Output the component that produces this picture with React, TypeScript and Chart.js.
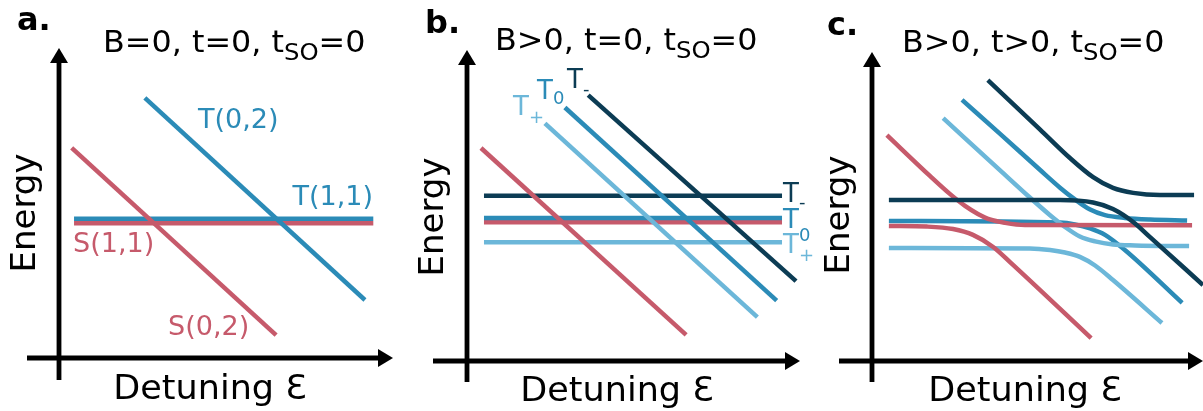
import React, { useEffect, useRef } from "react";
import { Chart, registerables } from "chart.js";

Chart.register(...registerables);

const FONT = '"DejaVu Sans", "Liberation Sans", sans-serif';
const RED = "#c65a6b";
const BLUE = "#2b8bb7";
const LIGHT = "#6cb7d9";
const DARK = "#0c3c54";

// ---------- Panel a: B=0, t=0, tSO=0 (detuning eps, energy E; arbitrary units 0..10)
const A_T11_EPS = [0.45, 9.41];
const A_T11_E = [4.49, 4.49];
const A_S11_EPS = [0.45, 9.41];
const A_S11_E = [4.35, 4.35];
const A_T02_EPS = [2.57, 9.16];
const A_T02_E = [8.39, 1.87];
const A_S02_EPS = [0.38, 6.5];
const A_S02_E = [6.78, 0.74];

// ---------- Panel b: B>0, t=0, tSO=0
const B_TM_H_EPS = [0.51, 9.46];
const B_TM_H_E = [5.31, 5.31];
const B_T0_H_EPS = [0.51, 9.46];
const B_T0_H_E = [4.6, 4.6];
const B_S11_EPS = [0.51, 9.46];
const B_S11_E = [4.46, 4.46];
const B_TP_H_EPS = [0.51, 9.46];
const B_TP_H_E = [3.82, 3.82];
const B_S02_EPS = [0.42, 6.58];
const B_S02_E = [6.85, 0.84];
const B_TP_D_EPS = [2.34, 8.72];
const B_TP_D_E = [7.64, 1.41];
const B_T0_D_EPS = [2.94, 9.3];
const B_T0_D_E = [8.15, 1.94];
const B_TM_D_EPS = [3.64, 9.88];
const B_TM_D_E = [8.55, 2.57];

// ---------- Panel c: B>0, t>0, tSO=0 (anticrossing branches)
const C_S_UP_EPS = [0.45, 1.75, 2.36, 2.81, 3.2, 3.56, 4.02, 4.62, 9.67];
const C_S_UP_E = [7.31, 5.99, 5.4, 5.02, 4.76, 4.58, 4.47, 4.4, 4.39];
const C_S_LO_EPS = [0.51, 1.66, 2.45, 3.05, 3.66, 4.17, 6.62];
const C_S_LO_E = [4.37, 4.35, 4.27, 4.08, 3.69, 3.2, 0.74];

const C_TP_UP_EPS = [2.15, 3.87, 4.77, 5.38, 5.83, 6.28, 6.74, 7.28, 7.95, 9.58];
const C_TP_UP_E = [7.86, 6.17, 5.29, 4.72, 4.34, 4.03, 3.87, 3.77, 3.74, 3.72];
const C_TP_LO_EPS = [0.51, 4.77, 5.38, 5.83, 6.28, 6.74, 7.28, 8.76];
const C_TP_LO_E = [3.66, 3.64, 3.59, 3.51, 3.37, 3.09, 2.62, 1.23];

const C_T0_UP_EPS = [2.72, 3.87, 5.08, 5.68, 6.13, 6.59, 7.04, 7.64, 8.4, 9.52];
const C_T0_UP_E = [8.45, 7.35, 6.18, 5.61, 5.23, 4.9, 4.72, 4.63, 4.58, 4.55];
const C_T0_LO_EPS = [0.51, 5.68, 6.13, 6.59, 7.04, 7.64, 9.37];
const C_T0_LO_E = [4.53, 4.48, 4.42, 4.29, 4.08, 3.59, 1.88];

const C_TM_UP_EPS = [3.5, 5.08, 5.98, 6.68, 7.28, 7.89, 8.7, 9.73];
const C_TM_UP_E = [9.09, 7.49, 6.57, 5.95, 5.6, 5.44, 5.37, 5.37];
const C_TM_LO_EPS = [0.51, 5.68, 6.68, 7.28, 7.89, 8.4, 10.0];
const C_TM_LO_E = [5.21, 5.21, 5.13, 4.92, 4.5, 4.01, 2.46];

type Part = { t: string; size?: number; dy?: number; gap?: number; bold?: boolean };
type Txt = {
  parts: Part[];
  x: number;
  y: number;
  color?: string;
  align?: "left" | "center" | "right";
  rotate?: boolean;
  sx?: number;
};

function fontOf(p: Part) {
  return `${p.bold ? "bold " : ""}${p.size ?? 26}px ${FONT}`;
}

function drawRich(ctx: CanvasRenderingContext2D, t: Txt, offX: number) {
  const widths = t.parts.map((p) => {
    ctx.font = fontOf(p);
    return ctx.measureText(p.t).width;
  });
  const total = widths.reduce((a, w, i) => a + w + (t.parts[i].gap ?? 0), 0);
  ctx.save();
  ctx.translate(t.x - offX, t.y);
  if (t.rotate) ctx.rotate(-Math.PI / 2);
  if (t.sx) ctx.scale(t.sx, 1);
  let x = t.align === "center" ? -total / 2 : t.align === "right" ? -total : 0;
  ctx.fillStyle = t.color ?? "#000";
  ctx.textBaseline = "alphabetic";
  ctx.textAlign = "left";
  t.parts.forEach((p, i) => {
    x += p.gap ?? 0;
    ctx.font = fontOf(p);
    ctx.fillText(p.t, x, p.dy ?? 0);
    x += widths[i];
  });
  ctx.restore();
}

const schematicPlugin = {
  id: "schematic",
  beforeDatasetsDraw(chart: any, _args: any, opts: any) {
    const { ctx, chartArea, scales } = chart;
    const ox = scales.x.getPixelForValue(0);
    const oy = scales.y.getPixelForValue(0);
    const right = chartArea.right;
    const top = chartArea.top;
    const head = 15;
    const half = 9;
    ctx.save();
    ctx.strokeStyle = "#000";
    ctx.fillStyle = "#000";
    ctx.lineWidth = 4.8;
    ctx.lineCap = "butt";
    ctx.beginPath();
    ctx.moveTo(ox - opts.overX, oy);
    ctx.lineTo(right - head + 1, oy);
    ctx.stroke();
    ctx.beginPath();
    ctx.moveTo(right, oy);
    ctx.lineTo(right - head, oy - half);
    ctx.lineTo(right - head, oy + half);
    ctx.closePath();
    ctx.fill();
    ctx.beginPath();
    ctx.moveTo(ox, oy + opts.overY);
    ctx.lineTo(ox, top + head - 1);
    ctx.stroke();
    ctx.beginPath();
    ctx.moveTo(ox, top);
    ctx.lineTo(ox - half, top + head);
    ctx.lineTo(ox + half, top + head);
    ctx.closePath();
    ctx.fill();
    ctx.restore();
  },
  afterDraw(chart: any, _args: any, opts: any) {
    const { ctx } = chart;
    (opts.texts as Txt[]).forEach((t) => drawRich(ctx, t, opts.offX));
  },
};

function pts(xs: number[], ys: number[]) {
  return xs.map((x, i) => ({ x, y: ys[i] }));
}

function ds(xs: number[], ys: number[], color: string, smooth = false) {
  return {
    data: pts(xs, ys),
    borderColor: color,
    backgroundColor: color,
    borderWidth: 4.5,
    pointRadius: 0,
    fill: false,
    borderCapStyle: "butt",
    cubicInterpolationMode: smooth ? "monotone" : "default",
    tension: 0,
    clip: false,
  };
}

function title(op: string, op2: string, x: number, y: number): Txt {
  return {
    x,
    y,
    sx: 1.06,
    parts: [
      { t: "B", size: 30 },
      { t: op, size: 30 },
      { t: "0, t", size: 30 },
      { t: op2, size: 30 },
      { t: "0, t", size: 30 },
      { t: "SO", size: 23, dy: 8 },
      { t: "=", size: 30 },
      { t: "0", size: 30 },
    ],
  };
}

function makeChart(canvas: HTMLCanvasElement, datasets: any[], padding: any, plug: any) {
  return new Chart(canvas, {
    type: "line",
    data: { datasets },
    options: {
      responsive: false,
      animation: false,
      devicePixelRatio: 1,
      events: [],
      layout: { padding },
      scales: {
        x: { type: "linear", min: 0, max: 10, display: false },
        y: { type: "linear", min: 0, max: 10, display: false },
      },
      plugins: {
        legend: { display: false },
        tooltip: { enabled: false },
        schematic: plug,
      } as any,
    },
    plugins: [schematicPlugin as any],
  } as any);
}

export default function App() {
  const ra = useRef<HTMLCanvasElement>(null);
  const rb = useRef<HTMLCanvasElement>(null);
  const rc = useRef<HTMLCanvasElement>(null);

  useEffect(() => {
    const axisTitles = (ex: number, ey: number, dx: number, dy: number): Txt[] => [
      { parts: [{ t: "Energy", size: 34 }], x: ex, y: ey, rotate: true, align: "center" },
      { parts: [{ t: "Detuning Ɛ", size: 34 }], x: dx, y: dy, align: "center", sx: 1.03 },
    ];

    const textsA: Txt[] = [
      { parts: [{ t: "a.", size: 32, bold: true }], x: 17, y: 30 },
      title("=", "=", 103, 52),
      ...axisTitles(35, 213, 210, 399),
      { parts: [{ t: "T(0,2)" }], x: 198, y: 128, color: BLUE, sx: 1.04 },
      { parts: [{ t: "T(1,1)" }], x: 373, y: 205, color: BLUE, align: "right", sx: 1.04 },
      { parts: [{ t: "S(1,1)" }], x: 73, y: 252, color: RED, sx: 1.04 },
      { parts: [{ t: "S(0,2)" }], x: 168, y: 335, color: RED, sx: 1.04 },
    ];
    const textsB: Txt[] = [
      { parts: [{ t: "b.", size: 32, bold: true }], x: 425, y: 33 },
      title(">", "=", 495, 50),
      ...axisTitles(443, 217, 617, 401),
      { parts: [{ t: "T" }, { t: "+", size: 18, dy: 8 }], x: 513, y: 115, color: LIGHT },
      { parts: [{ t: "T" }, { t: "0", size: 18, dy: 5 }], x: 537, y: 99, color: BLUE },
      { parts: [{ t: "T" }, { t: "-", size: 18, dy: 7 }], x: 567, y: 88, color: DARK },
      { parts: [{ t: "T" }, { t: "-", size: 18, dy: 6 }], x: 783, y: 202, color: DARK },
      { parts: [{ t: "T" }, { t: "0", size: 18, dy: 13 }], x: 783, y: 228, color: BLUE },
      { parts: [{ t: "T" }, { t: "+", size: 18, dy: 8 }], x: 783, y: 253, color: LIGHT },
    ];
    const textsC: Txt[] = [
      { parts: [{ t: "c.", size: 32, bold: true }], x: 827, y: 35 },
      title(">", ">", 902, 52),
      ...axisTitles(849, 215, 1025, 401),
    ];

    const charts = [
      makeChart(
        ra.current!,
        [
          ds(A_T02_EPS, A_T02_E, BLUE),
          ds(A_S02_EPS, A_S02_E, RED),
          ds(A_T11_EPS, A_T11_E, BLUE),
          ds(A_S11_EPS, A_S11_E, RED),
        ],
        { left: 59, top: 48, right: 7, bottom: 53 },
        { texts: textsA, offX: 0, overX: 32, overY: 22 }
      ),
      makeChart(
        rb.current!,
        [
          ds(B_TM_D_EPS, B_TM_D_E, DARK),
          ds(B_T0_D_EPS, B_T0_D_E, BLUE),
          ds(B_TP_D_EPS, B_TP_D_E, LIGHT),
          ds(B_S02_EPS, B_S02_E, RED),
          ds(B_TM_H_EPS, B_TM_H_E, DARK),
          ds(B_T0_H_EPS, B_T0_H_E, BLUE),
          ds(B_S11_EPS, B_S11_E, RED),
          ds(B_TP_H_EPS, B_TP_H_E, LIGHT),
        ],
        { left: 67, top: 50, right: 20, bottom: 50 },
        { texts: textsB, offX: 400, overX: 34, overY: 21 }
      ),
      makeChart(
        rc.current!,
        [
          ds(C_TM_LO_EPS, C_TM_LO_E, DARK, true),
          ds(C_TM_UP_EPS, C_TM_UP_E, DARK, true),
          ds(C_S_UP_EPS, C_S_UP_E, RED, true),
          ds(C_S_LO_EPS, C_S_LO_E, RED, true),
          ds(C_TP_UP_EPS, C_TP_UP_E, LIGHT, true),
          ds(C_TP_LO_EPS, C_TP_LO_E, LIGHT, true),
          ds(C_T0_UP_EPS, C_T0_UP_E, BLUE, true),
          ds(C_T0_LO_EPS, C_T0_LO_E, BLUE, true),
        ],
        { left: 72, top: 52, right: 0, bottom: 50 },
        { texts: textsC, offX: 800, overX: 33, overY: 21 }
      ),
    ];
    return () => charts.forEach((c) => c.destroy());
  }, []);

  return (
    <div
      style={{
        position: "absolute",
        left: 0,
        top: 0,
        width: 1203,
        height: 411,
        background: "#fff",
        overflow: "hidden",
      }}
    >
      <canvas ref={ra} width={400} height={411} style={{ position: "absolute", left: 0, top: 0 }} />
      <canvas ref={rb} width={420} height={411} style={{ position: "absolute", left: 400, top: 0 }} />
      <canvas ref={rc} width={403} height={411} style={{ position: "absolute", left: 800, top: 0 }} />
    </div>
  );
}
